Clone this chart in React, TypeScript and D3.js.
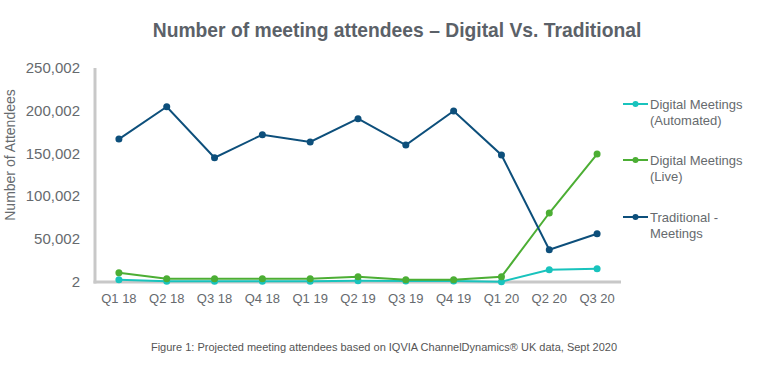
import React from "react";
import * as d3 from "d3";

const quarters = ["Q1 18","Q2 18","Q3 18","Q4 18","Q1 19","Q2 19","Q3 19","Q4 19","Q1 20","Q2 20","Q3 20"];
const automated = [2700, 1000, 1000, 1000, 1000, 1500, 1200, 1200, 300, 14400, 15500];
const live = [10900, 3900, 3900, 3900, 3900, 6200, 2500, 2500, 6200, 80600, 149500];
const traditional = [167000, 204800, 145200, 172100, 163600, 190800, 160000, 199800, 148400, 37700, 56400];
const yTicks = [2, 50002, 100002, 150002, 200002, 250002];
const seriesNames = [["Digital Meetings", "(Automated)"], ["Digital Meetings", "(Live)"], ["Traditional -", "Meetings"]];
const seriesColors = ["#19c3bd", "#4cae34", "#0d4f7b"];

export default function App() {
  const W = 776, H = 380;
  const left = 95, right = 621, top = 68, bottom = 282;
  const x = d3.scalePoint<string>().domain(quarters).range([left, right]).padding(0.5);
  const y = d3.scaleLinear().domain([2, 250002]).range([bottom, top]);
  const line = d3.line<number>().x((_, i) => x(quarters[i])!).y(d => y(d));
  const series = [automated, live, traditional];
  const font = "'Liberation Sans', Arial, sans-serif";
  const textColor = "#666a6e";
  const legendY = [104, 160, 217];
  return (
    <svg width={W} height={H} style={{ position: "absolute", left: 0, top: 0, background: "#fff" }} fontFamily={font}>
      <text x={397} y={37} textAnchor="middle" fontSize={19.3} fontWeight="bold" fill="#5b6168">
        Number of meeting attendees – Digital Vs. Traditional
      </text>
      <text transform={`translate(15,155) rotate(-90)`} textAnchor="middle" fontSize={14} fill={textColor}>
        Number of Attendees
      </text>
      {yTicks.map(t => (
        <text key={t} x={80} y={y(t) + 5} textAnchor="end" fontSize={15} fill={textColor}>
          {d3.format(",")(t)}
        </text>
      ))}
      <line x1={left} x2={left} y1={top} y2={bottom + 1.5} stroke="#c8c8c8" strokeWidth={3} />
      <line x1={left - 1.5} x2={right} y1={bottom} y2={bottom} stroke="#c8c8c8" strokeWidth={3} />
      {quarters.map(q => (
        <text key={q} x={x(q)!} y={303} textAnchor="middle" fontSize={13} fill={textColor}>{q}</text>
      ))}
      {series.map((s, si) => (
        <g key={si}>
          <path d={line(s)!} fill="none" stroke={seriesColors[si]} strokeWidth={2} />
          {s.map((v, i) => (
            <circle key={i} cx={x(quarters[i])!} cy={y(v)} r={3.5} fill={seriesColors[si]} />
          ))}
        </g>
      ))}
      {seriesNames.map((n, i) => (
        <g key={i}>
          <line x1={623} x2={648} y1={legendY[i]} y2={legendY[i]} stroke={seriesColors[i]} strokeWidth={2} />
          <circle cx={635.5} cy={legendY[i]} r={3} fill={seriesColors[i]} />
          <text x={650} y={legendY[i] + 5} fontSize={13} fill={textColor}>{n[0]}</text>
          <text x={650} y={legendY[i] + 21} fontSize={13} fill={textColor}>{n[1]}</text>
        </g>
      ))}
      <text x={384} y={351} textAnchor="middle" fontSize={11} fill="#555">
        Figure 1: Projected meeting attendees based on IQVIA ChannelDynamics® UK data, Sept 2020
      </text>
    </svg>
  );
}
